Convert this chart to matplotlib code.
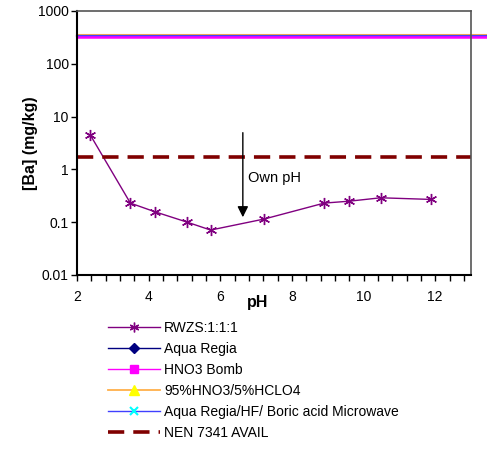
import matplotlib
matplotlib.use("Agg")
import matplotlib.pyplot as plt
from matplotlib.lines import Line2D
from matplotlib.ticker import MultipleLocator, FixedLocator, FixedFormatter

plt.rcParams["font.family"] = ["Liberation Sans", "DejaVu Sans"]

# RWZS 1:1:1 leaching test
ph_rwzs = [2.37, 3.49, 4.17, 5.08, 5.73, 7.23, 8.90, 9.60, 10.48, 11.88]
ba_rwzs = [4.5, 0.23, 0.158, 0.10, 0.071, 0.115, 0.23, 0.25, 0.29, 0.27]

# total digestions (pH independent, drawn as flat lines)
ph_span = [2.0, 13.45]
ba_aqua_regia = [336, 336]
ba_hno3_bomb = [322, 322]
ba_hno3_hclo4 = [356, 356]
ba_microwave = [330, 330]

# NEN 7341 availability
ba_nen = [1.72, 1.72]

# own pH arrow
own_ph = 6.63
arrow_from = 5.6
arrow_to = 0.11

y_ticks = [0.01, 0.1, 1, 10, 100, 1000]
y_labels = ["0.01", "0.1", "1", "10", "100", "1000"]
x_ticks = [2, 4, 6, 8, 10, 12]

fig = plt.figure(figsize=(4.87, 4.51), dpi=100)
ax = fig.add_axes([77 / 487, 1 - 275 / 451, 394 / 487, 264 / 451])

ax.plot(ph_rwzs, ba_rwzs, color="#800080", lw=1, marker=(6, 2, 0),
        markersize=8, markeredgewidth=1)
ax.plot(ph_span, ba_hno3_hclo4, color="#FFB04A", lw=1.5, clip_on=False)
ax.plot(ph_span, ba_aqua_regia, color="#000080", lw=1.5, clip_on=False)
ax.plot(ph_span, ba_microwave, color="#4040FF", lw=1.5, clip_on=False)
ax.plot(ph_span, ba_hno3_bomb, color="#FF00FF", lw=1.8, clip_on=False)
ax.plot(ph_span, ba_nen, color="#800000", lw=2.6, dashes=(4.5, 2.5))

ax.annotate("", xy=(own_ph, arrow_to), xytext=(own_ph, arrow_from),
            arrowprops=dict(arrowstyle="-|>", color="black", lw=1,
                            mutation_scale=16))
ax.text(own_ph + 0.14, 0.69, "Own pH", fontsize=10.5, va="center", ha="left")

ax.set_yscale("log")
ax.set_ylim(0.01, 1000)
ax.set_xlim(2, 13)
ax.yaxis.set_major_locator(FixedLocator(y_ticks))
ax.yaxis.set_major_formatter(FixedFormatter(y_labels))
ax.yaxis.set_minor_locator(FixedLocator([]))
ax.xaxis.set_major_locator(FixedLocator(x_ticks))
ax.xaxis.set_minor_locator(MultipleLocator(0.4))
ax.tick_params(which="both", direction="out", length=4, width=1,
               labelsize=10, colors="black")
ax.tick_params(axis="x", which="major", pad=7)
ax.tick_params(axis="y", which="major", pad=2)

for side in ["left", "bottom"]:
    ax.spines[side].set_linewidth(1.5)
    ax.spines[side].set_color("black")
for side in ["top", "right"]:
    ax.spines[side].set_linewidth(1.2)
    ax.spines[side].set_color("#555555")

ax.set_ylabel("[Ba] (mg/kg)", fontsize=11.5, fontweight="bold")
ax.yaxis.set_label_coords(-0.10, 0.5)
ax.set_xlabel("pH", fontsize=11.5, fontweight="bold")
ax.xaxis.set_label_coords((258 - 77) / 394, -0.074)

handles = [
    Line2D([], [], color="#800080", lw=1, marker=(6, 2, 0), markersize=7),
    Line2D([], [], color="#000080", lw=1, marker="D", markersize=5),
    Line2D([], [], color="#FF00FF", lw=1, marker="s", markersize=6),
    Line2D([], [], color="#FFB04A", lw=1.3, marker="^", markersize=7,
           markerfacecolor="#FFFF00", markeredgecolor="#FFFF00"),
    Line2D([], [], color="#4040FF", lw=1, marker="x", markersize=6,
           markeredgecolor="#00FFFF", markeredgewidth=1.5),
    Line2D([], [], color="#800000", lw=2.6, dashes=(4.5, 2.5)),
]
labels = [
    "RWZS:1:1:1",
    "Aqua Regia",
    "HNO3 Bomb",
    "95%HNO3/5%HCLO4",
    "Aqua Regia/HF/ Boric acid Microwave",
    "NEN 7341 AVAIL",
]
fig.legend(handles, labels, loc="upper left",
           bbox_to_anchor=(108 / 487, 1 - 321 / 451), frameon=False,
           fontsize=10, handlelength=3.75, handletextpad=0.3,
           labelspacing=0.5, borderpad=0, borderaxespad=0)

fig.savefig("out.png", dpi=100)
